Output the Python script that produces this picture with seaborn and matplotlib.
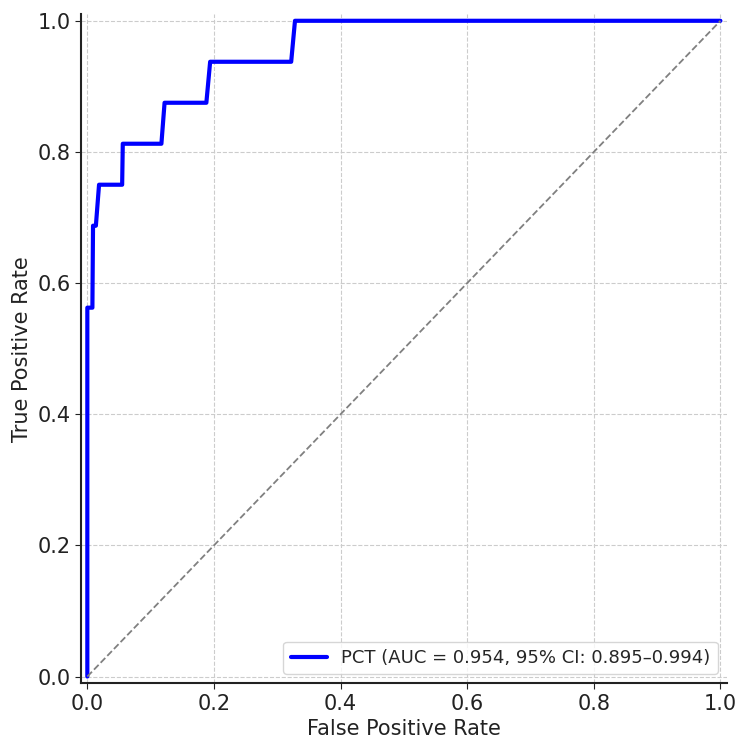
import seaborn as sns
import matplotlib.pyplot as plt
import pandas as pd

# Curva ROC do PCT
fpr = [0.0, 0.0, 0.008, 0.009, 0.0135, 0.0185, 0.055, 0.056, 0.117, 0.122, 0.188, 0.194, 0.322, 0.328, 1.0]
tpr = [0.0, 0.5625, 0.5625, 0.6875, 0.6875, 0.75, 0.75, 0.8125, 0.8125, 0.875, 0.875, 0.9375, 0.9375, 1.0, 1.0]
rotulo = "PCT (AUC = 0.954, 95% CI: 0.895–0.994)"
diagonal = [0.0, 1.0]

df = pd.DataFrame({"FPR": fpr, "TPR": tpr})

sns.set_style("ticks")
plt.rcParams["font.family"] = ["DejaVu Sans"]

fig = plt.figure(figsize=(7.5, 7.49), dpi=100)
ax = fig.add_axes([0.108, 0.088, 0.861, 0.893])

ax.plot(df["FPR"], df["TPR"], color="blue", lw=3, label=rotulo)
ax.plot(diagonal, diagonal, color="gray", ls="--", lw=1.3)

ax.set_xlim(-0.01, 1.01)
ax.set_ylim(-0.01, 1.01)
ax.set_xticks([0, 0.2, 0.4, 0.6, 0.8, 1.0])
ax.set_yticks([0, 0.2, 0.4, 0.6, 0.8, 1.0])
ax.tick_params(labelsize=15, length=4, color="#222222", labelcolor="#222222")
ax.grid(True, ls="--", color="#cccccc", lw=0.8)
ax.set_xlabel("False Positive Rate", fontsize=15, color="#222222")
ax.set_ylabel("True Positive Rate", fontsize=15, color="#222222")
ax.legend(loc="lower right", fontsize=13)
sns.despine(ax=ax)
for s in ["left", "bottom"]:
    ax.spines[s].set_linewidth(1.5)
    ax.spines[s].set_color("#222222")

fig.savefig("out.png", dpi=100)
